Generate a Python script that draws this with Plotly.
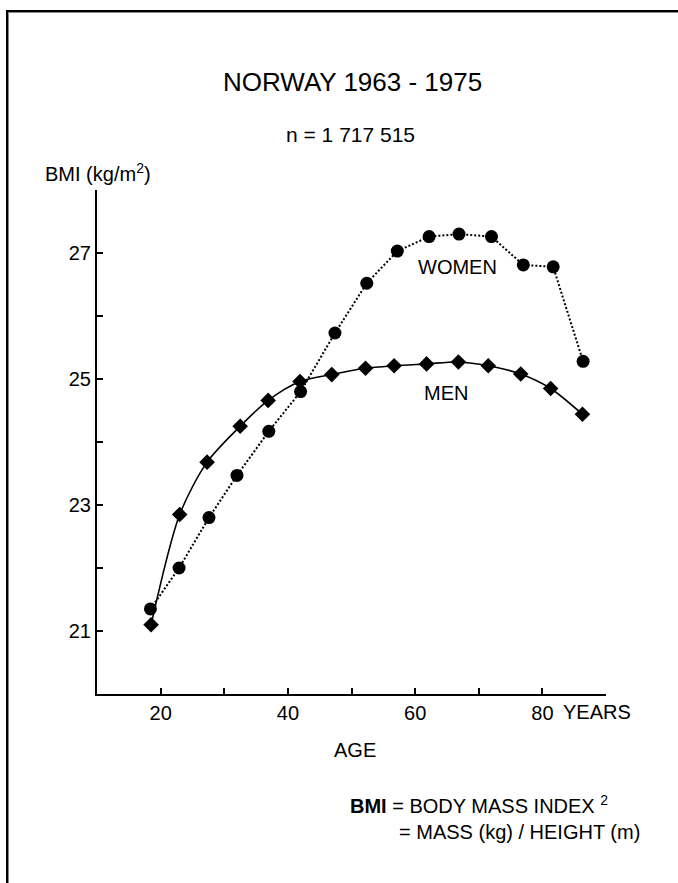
import plotly.graph_objects as go

# Средний ИМТ по возрасту, Норвегия 1963-1975
men_age = [18.5, 23, 27.3, 32.5, 36.9, 41.9, 46.9, 52.2, 56.7, 61.8, 66.8, 71.5, 76.6, 81.3, 86.3]
men_bmi = [21.10, 22.85, 23.68, 24.25, 24.66, 24.96, 25.07, 25.17, 25.21, 25.24, 25.27, 25.21, 25.08, 24.85, 24.44]

women_age = [18.4, 22.9, 27.6, 32.0, 37.0, 42.0, 47.4, 52.4, 57.2, 62.2, 66.9, 72.0, 77.0, 81.7, 86.4]
women_bmi = [21.35, 22.00, 22.80, 23.47, 24.17, 24.80, 25.73, 26.52, 27.03, 27.26, 27.30, 27.26, 26.81, 26.78, 25.28]

x_ticks = [20, 40, 60, 80]
x_labels = ["20", "40", "60", "80"]
y_ticks = [21, 23, 25, 27]
y_labels = ["21", "23", "25", "27"]

W, H = 678, 883
L, R, T, B = 97, 606, 190, 694
FONT = "Liberation Sans, Arial, sans-serif"


def px(x):
    return (x - L) / (R - L)


def py(y):
    return (B - y) / (B - T)


fig = go.Figure()

fig.add_trace(go.Scatter(x=women_age, y=women_bmi, mode="lines+markers",
                         line=dict(color="black", width=2, dash="2px,2px"),
                         marker=dict(symbol="circle", size=13, color="black")))
fig.add_trace(go.Scatter(x=men_age, y=men_bmi, mode="lines+markers",
                         line=dict(color="black", width=1.6, shape="spline", smoothing=0.8),
                         marker=dict(symbol="diamond", size=12, color="black")))

tick_style = dict(ticks="inside", ticklen=6, tickwidth=1.5, tickcolor="black",
                  showline=True, linecolor="black", linewidth=2,
                  showgrid=False, zeroline=False,
                  tickfont=dict(family=FONT, size=20, color="black"))

fig.update_xaxes(range=[10, 90], tickvals=x_ticks, ticktext=x_labels,
                 minor=dict(tick0=0, dtick=10, ticks="inside", ticklen=6,
                            tickwidth=1.5, tickcolor="black", showgrid=False),
                 **tick_style)
fig.update_yaxes(range=[20, 28], tickvals=y_ticks, ticktext=y_labels,
                 minor=dict(tick0=0, dtick=1, ticks="inside", ticklen=6,
                            tickwidth=1.5, tickcolor="black", showgrid=False),
                 **tick_style)

def note(text, x, y, size=20, anchor="center"):
    fig.add_annotation(text=text, x=px(x), y=py(y), xref="paper", yref="paper",
                       xanchor=anchor, yanchor="middle", showarrow=False,
                       font=dict(family=FONT, size=size, color="black"))

note("NORWAY 1963 - 1975", 352, 82, size=26)
note("n = 1 717 515", 350, 135, size=21)
note("BMI (kg/m<sup>2</sup>)", 43, 173, anchor="left")
note("AGE", 355, 750)
note("<b>BMI</b> = BODY MASS INDEX <sup>2</sup>", 348, 804, anchor="left")
note("= MASS (kg) / HEIGHT (m)", 397, 832, anchor="left")
note("WOMEN", 457, 267)
note("MEN", 446, 393)
note("YEARS", 561, 712, anchor="left")

# рамка слева и сверху
fig.add_shape(type="line", xref="paper", yref="paper",
              x0=px(7), x1=px(7), y0=py(10), y1=py(900),
              line=dict(color="black", width=2))
fig.add_shape(type="line", xref="paper", yref="paper",
              x0=px(6), x1=px(700), y0=py(11), y1=py(11),
              line=dict(color="black", width=2))
fig.add_shape(type="line", xref="paper", yref="paper",
              x0=px(8.5), x1=px(8.5), y0=py(12), y1=py(900),
              line=dict(color="#888888", width=1))
fig.add_shape(type="line", xref="paper", yref="paper",
              x0=px(8), x1=px(700), y0=py(12.5), y1=py(12.5),
              line=dict(color="#888888", width=1))

fig.update_layout(
    autosize=False, width=W, height=H,
    margin=dict(l=L, r=W - R, t=T, b=H - B, pad=0),
    plot_bgcolor="white", paper_bgcolor="white",
    showlegend=False
    )

fig.write_html("out.html", config=dict(displayModeBar=False),
               post_script="document.body.style.margin='0';document.body.style.overflow='hidden';")
